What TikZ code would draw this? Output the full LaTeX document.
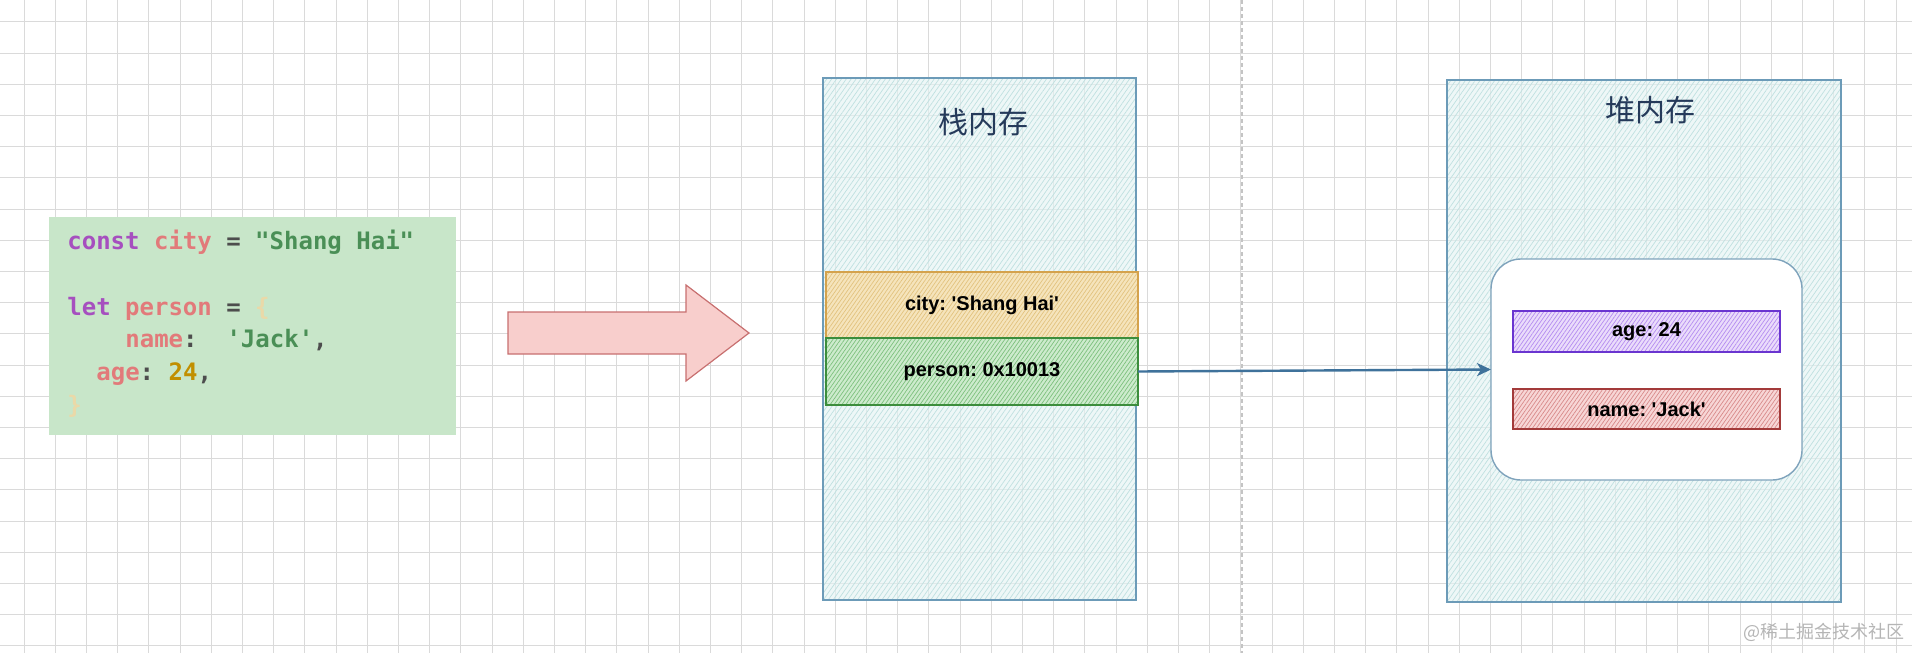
\documentclass[tikz,border=0pt]{standalone}
\usepackage{fontspec}
\newfontfamily\labelfont{Liberation Sans}
\newfontfamily\cjk{Noto Sans CJK SC}
\newfontfamily\codefont{DejaVu Sans Mono}
\usetikzlibrary{patterns.meta,arrows.meta}
\frenchspacing
\definecolor{gridc}{HTML}{DADADA}
\definecolor{memfill}{HTML}{E4F3F3}
\definecolor{memhatch}{HTML}{BFE0E0}
\definecolor{memdraw}{HTML}{6C9BB8}
\definecolor{cityfill}{HTML}{F5E4BC}
\definecolor{cityhatch}{HTML}{E2C27E}
\definecolor{citydraw}{HTML}{D4A24C}
\definecolor{perfill}{HTML}{CDEBCD}
\definecolor{perhatch}{HTML}{7DC07D}
\definecolor{perdraw}{HTML}{3C8D3C}
\definecolor{agefill}{HTML}{EADCFB}
\definecolor{agehatch}{HTML}{B48CF0}
\definecolor{agedraw}{HTML}{6A35D0}
\definecolor{namefill}{HTML}{F7D6D6}
\definecolor{namehatch}{HTML}{D88A8A}
\definecolor{namedraw}{HTML}{A33A3A}
\definecolor{innerdraw}{HTML}{7FA3BC}
\definecolor{titlec}{HTML}{253A5A}
\definecolor{codebg}{HTML}{C8E6C9}
\definecolor{kw}{HTML}{A64FBF}
\definecolor{var}{HTML}{E27A7A}
\definecolor{op}{HTML}{4D4D4D}
\definecolor{str}{HTML}{4A8F56}
\definecolor{num}{HTML}{C18F00}
\definecolor{brace}{HTML}{EAD9A8}
\definecolor{arrowfill}{HTML}{F8CECC}
\definecolor{arrowdraw}{HTML}{C87070}
\definecolor{linkc}{HTML}{3F729B}
\definecolor{markc}{HTML}{B5B5B5}
\definecolor{divc}{HTML}{C4C4C4}
\begin{document}
\begin{tikzpicture}[x=0.5pt,y=-0.5pt,
  gridline/.style={draw=gridc,line width=0.5pt},
  membox/.style={draw=memdraw,line width=0.7pt,inner sep=0pt,outer sep=0pt,
    preaction={fill=memfill,fill opacity=0.6},
    pattern={Lines[angle=55,distance=2pt,line width=0.35pt]},pattern color=memhatch},
  hatchbox/.style n args={3}{draw=#3,line width=0.7pt,inner sep=0pt,outer sep=0pt,
    preaction={fill=#1},
    pattern={Lines[angle=55,distance=1.6pt,line width=0.35pt]},pattern color=#2,
    font=\labelfont\bfseries\fontsize{10}{12}\selectfont},
  title/.style={font=\cjk\fontsize{15}{18}\selectfont,text=titlec},
  codeline/.style={anchor=base west,inner sep=0pt,font=\codefont\bfseries\fontsize{12}{16}\selectfont,text=op},
  link/.style={draw=linkc,line width=1.2pt,-{Stealth[length=7pt,width=6.5pt,inset=2pt]}}
]
\useasboundingbox (0,0) rectangle (1912,653);
\fill[white] (0,0) rectangle (1912,653);
% grid
\foreach \i in {0,...,61} \draw[gridline] ({24+31.2*\i},0) -- ({24+31.2*\i},653);
\foreach \j in {0,...,20} \draw[gridline] (0,{21.8+31.2*\j}) -- (1912,{21.8+31.2*\j});
% dashed divider
\draw[draw=divc,line width=0.6pt,dash pattern=on 2pt off 1.5pt] (1242,0) -- (1242,653);
% code block
\node[fill=codebg,inner sep=0pt,minimum width=203.5pt,minimum height=109pt] (code) at (252.5,326) {};
\node[codeline] (code1) at (67,249) {{\color{kw}const} {\color{var}city} = {\color{str}"Shang Hai"}};
\node[codeline] (code2) at (67,315) {{\color{kw}let} {\color{var}person} = {\color{brace}\{}};
\node[codeline] (code3) at (125,347) {{\color{var}name}:~~{\color{str}'Jack'},};
\node[codeline] (code4) at (96,380) {{\color{var}age}: {\color{num}24},};
\node[codeline] (code5) at (67,413) {{\color{brace}\}}};
% big arrow
\path[fill=arrowfill,draw=arrowdraw,line width=0.6pt]
  (508,312) -- (686,312) -- (686,285) -- (749,333) -- (686,381) -- (686,354) -- (508,354) -- cycle;
% stack memory
\node[membox,minimum width=156.5pt,minimum height=261pt] (stack) at (979.5,339) {};
\node[title] (stacktitle) at (983,122) {栈内存};
\node[hatchbox={cityfill}{cityhatch}{citydraw},minimum width=156pt,minimum height=33pt] (city) at (982,305) {city: 'Shang Hai'};
\node[hatchbox={perfill}{perhatch}{perdraw},minimum width=156pt,minimum height=33.5pt] (person) at (982,371.5) {person: 0x10013};
% heap memory
\node[membox,minimum width=197pt,minimum height=261pt] (heap) at (1644,341) {};
\node[title] (heaptitle) at (1650,110) {堆内存};
\node[draw=innerdraw,fill=white,line width=0.7pt,rounded corners=15pt,inner sep=0pt,outer sep=0pt,
  minimum width=155.5pt,minimum height=110.5pt] (inner) at (1646.5,369.5) {};
\node[hatchbox={agefill}{agehatch}{agedraw},minimum width=133.5pt,minimum height=20.5pt] (age) at (1646.5,331.5) {age: 24};
\node[hatchbox={namefill}{namehatch}{namedraw},minimum width=133.5pt,minimum height=20pt] (name) at (1646.5,409) {name: 'Jack'};
% pointer
\draw[link] (person.east) -- (inner.west);
% watermark
\node[anchor=east,inner sep=0pt,font=\cjk\fontsize{9}{11}\selectfont,text=markc] (mark) at (1905,632) {@稀土掘金技术社区};
\end{tikzpicture}
\end{document}
